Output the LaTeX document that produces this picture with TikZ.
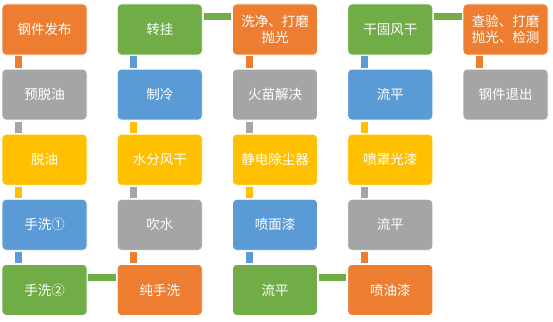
\documentclass[tikz,border=0pt]{standalone}
\usepackage{fontspec}
\newfontfamily\cjk{Noto Sans CJK SC}

% cores das etapas
\definecolor{laranja}{HTML}{ED7D31}
\definecolor{cinza}{HTML}{A5A5A5}
\definecolor{ouro}{HTML}{FFC000}
\definecolor{azul}{HTML}{5B9BD5}
\definecolor{verde}{HTML}{70AD47}

\tikzset{
  etapa/.style={rectangle, rounded corners=4pt, draw=white, line width=0.8pt,
    minimum width=85pt, minimum height=51pt, inner sep=0pt, align=center,
    text=white, font=\cjk\fontsize{13.5}{16}\selectfont},
  barra/.style={line width=7pt, shorten <=1pt, shorten >=1pt}
}

\begin{document}
\begin{tikzpicture}[x=1pt,y=1pt]
        % 1. VARIÁVEIS (grade das etapas)
        \def\dx{115.25}  % passo entre colunas
        \def\dy{65.1}    % passo entre linhas
        \def\xo{44.5}    % centro da primeira coluna
        \def\yo{-29.5}   % centro da primeira linha

        \useasboundingbox (0,0) rectangle (553,-321);

        % ==========================================
        % 2. COLUNA 1 (descendo)
        % ==========================================
        \node[etapa, fill=laranja] (a1) at (\xo, \yo) {钢件发布};
        \node[etapa, fill=cinza]   (a2) at (\xo, \yo-\dy) {预脱油};
        \node[etapa, fill=ouro]    (a3) at (\xo, \yo-2*\dy) {脱油};
        \node[etapa, fill=azul]    (a4) at (\xo, \yo-3*\dy) {手洗①};
        \node[etapa, fill=verde]   (a5) at (\xo, \yo-4*\dy) {手洗②};

        % ==========================================
        % 3. COLUNA 2 (subindo)
        % ==========================================
        \node[etapa, fill=laranja] (b5) at (\xo+\dx, \yo-4*\dy) {纯手洗};
        \node[etapa, fill=cinza]   (b4) at (\xo+\dx, \yo-3*\dy) {吹水};
        \node[etapa, fill=ouro]    (b3) at (\xo+\dx, \yo-2*\dy) {水分风干};
        \node[etapa, fill=azul]    (b2) at (\xo+\dx, \yo-\dy) {制冷};
        \node[etapa, fill=verde]   (b1) at (\xo+\dx, \yo) {转挂};

        % ==========================================
        % 4. COLUNA 3 (descendo)
        % ==========================================
        \node[etapa, fill=laranja] (c1) at (\xo+2*\dx, \yo) {洗净、打磨\\抛光};
        \node[etapa, fill=cinza]   (c2) at (\xo+2*\dx, \yo-\dy) {火苗解决};
        \node[etapa, fill=ouro]    (c3) at (\xo+2*\dx, \yo-2*\dy) {静电除尘器};
        \node[etapa, fill=azul]    (c4) at (\xo+2*\dx, \yo-3*\dy) {喷面漆};
        \node[etapa, fill=verde]   (c5) at (\xo+2*\dx, \yo-4*\dy) {流平};

        % ==========================================
        % 5. COLUNA 4 (subindo)
        % ==========================================
        \node[etapa, fill=laranja] (d5) at (\xo+3*\dx, \yo-4*\dy) {喷油漆};
        \node[etapa, fill=cinza]   (d4) at (\xo+3*\dx, \yo-3*\dy) {流平};
        \node[etapa, fill=ouro]    (d3) at (\xo+3*\dx, \yo-2*\dy) {喷罩光漆};
        \node[etapa, fill=azul]    (d2) at (\xo+3*\dx, \yo-\dy) {流平};
        \node[etapa, fill=verde]   (d1) at (\xo+3*\dx, \yo) {干固风干};

        % ==========================================
        % 6. COLUNA 5 (saída)
        % ==========================================
        \node[etapa, fill=laranja] (e1) at (\xo+4*\dx, \yo) {查验、打磨\\抛光、检测};
        \node[etapa, fill=cinza]   (e2) at (\xo+4*\dx, \yo-\dy) {钢件退出};

        % ==========================================
        % 7. BARRAS DE LIGAÇÃO (cor da etapa de origem)
        % ==========================================
        \draw[barra, laranja] ([xshift=17pt]a1.south west) -- ([xshift=17pt]a2.north west);
        \draw[barra, cinza]   ([xshift=17pt]a2.south west) -- ([xshift=17pt]a3.north west);
        \draw[barra, ouro]    ([xshift=17pt]a3.south west) -- ([xshift=17pt]a4.north west);
        \draw[barra, azul]    ([xshift=17pt]a4.south west) -- ([xshift=17pt]a5.north west);
        \draw[barra, verde]   ([yshift=-13pt]a5.north east) -- ([yshift=-13pt]b5.north west);

        \draw[barra, laranja] ([xshift=17pt]b5.north west) -- ([xshift=17pt]b4.south west);
        \draw[barra, cinza]   ([xshift=17pt]b4.north west) -- ([xshift=17pt]b3.south west);
        \draw[barra, ouro]    ([xshift=17pt]b3.north west) -- ([xshift=17pt]b2.south west);
        \draw[barra, azul]    ([xshift=17pt]b2.north west) -- ([xshift=17pt]b1.south west);
        \draw[barra, verde]   ([yshift=-13pt]b1.north east) -- ([yshift=-13pt]c1.north west);

        \draw[barra, laranja] ([xshift=17pt]c1.south west) -- ([xshift=17pt]c2.north west);
        \draw[barra, cinza]   ([xshift=17pt]c2.south west) -- ([xshift=17pt]c3.north west);
        \draw[barra, ouro]    ([xshift=17pt]c3.south west) -- ([xshift=17pt]c4.north west);
        \draw[barra, azul]    ([xshift=17pt]c4.south west) -- ([xshift=17pt]c5.north west);
        \draw[barra, verde]   ([yshift=-13pt]c5.north east) -- ([yshift=-13pt]d5.north west);

        \draw[barra, laranja] ([xshift=17pt]d5.north west) -- ([xshift=17pt]d4.south west);
        \draw[barra, cinza]   ([xshift=17pt]d4.north west) -- ([xshift=17pt]d3.south west);
        \draw[barra, ouro]    ([xshift=17pt]d3.north west) -- ([xshift=17pt]d2.south west);
        \draw[barra, azul]    ([xshift=17pt]d2.north west) -- ([xshift=17pt]d1.south west);
        \draw[barra, verde]   ([yshift=-13pt]d1.north east) -- ([yshift=-13pt]e1.north west);

        \draw[barra, laranja] ([xshift=17pt]e1.south west) -- ([xshift=17pt]e2.north west);
    \end{tikzpicture}
\end{document}
